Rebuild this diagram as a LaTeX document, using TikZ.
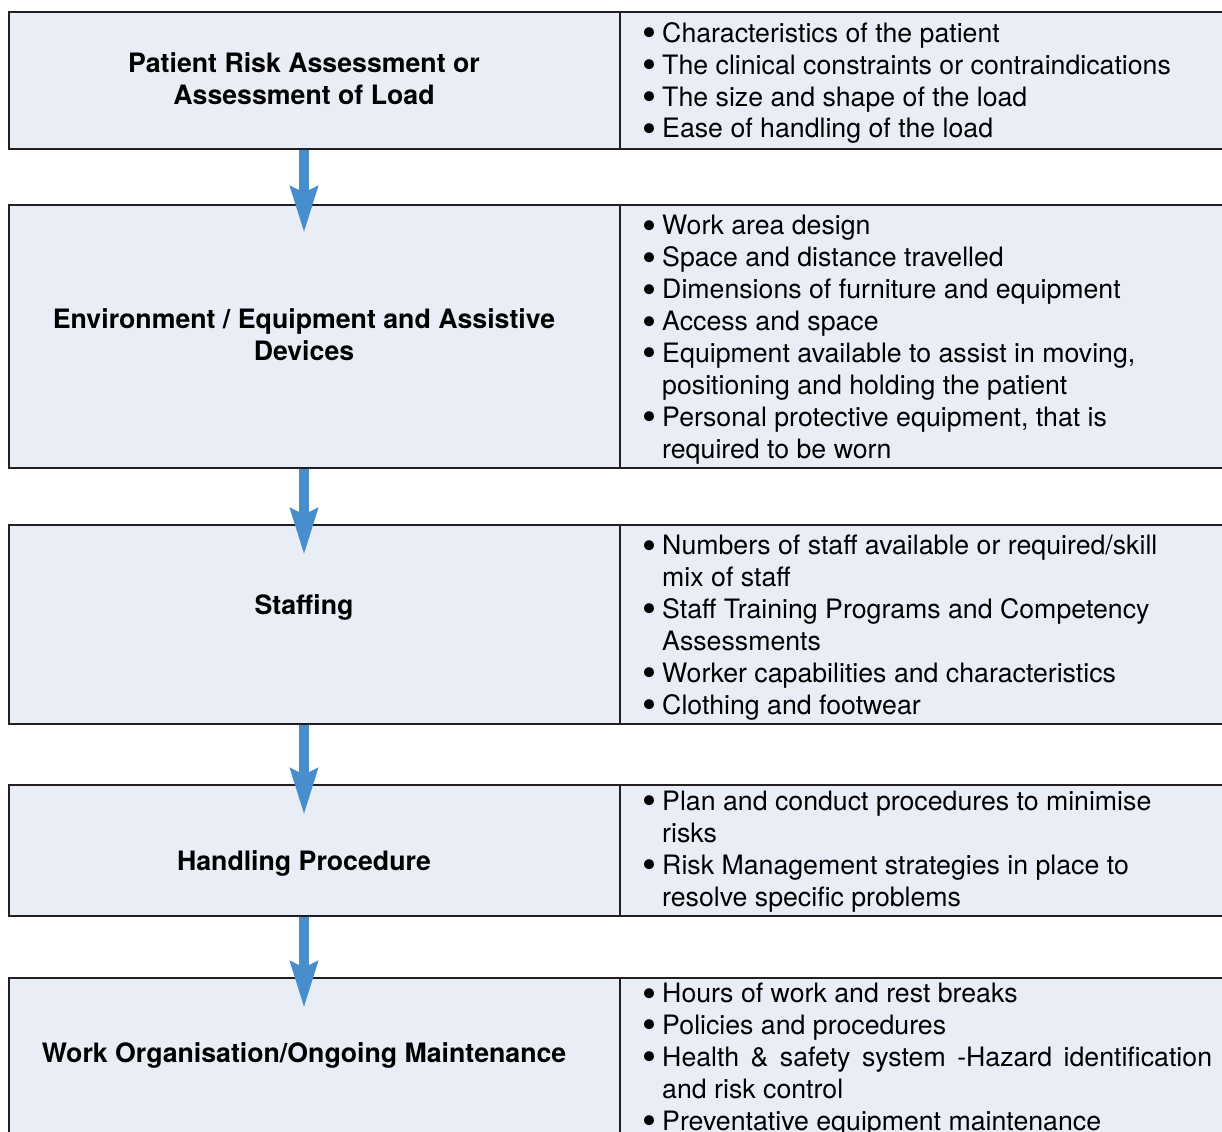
\documentclass[tikz,border=0pt]{standalone}
\usepackage{fontspec}
\setmainfont{TeX Gyre Heros}
\usetikzlibrary{arrows.meta,positioning,fit}

\definecolor{cellfill}{RGB}{232,237,246}
\definecolor{flowblue}{RGB}{72,142,204}
\definecolor{rulegray}{RGB}{35,31,32}

% bullet with hanging indent
\newcommand{\itm}{\makebox[9.6pt][l]{\kern-1.7pt\raisebox{-0.17em}{\scalebox{1.5}{\textbullet}}}}
\newcommand{\cont}{\hspace*{9.6pt}}

\tikzset{
    cell/.style={draw=rulegray, line width=1.1pt, fill=cellfill, inner sep=0pt},
    heading/.style={font=\fontsize{15.2}{18.14}\selectfont\bfseries, align=center, inner sep=0pt},
    % anchored on the baseline of the last line
    points/.style={font=\fontsize{15.2}{18.14}\selectfont, align=left, anchor=base west, inner sep=0pt},
    flow/.style={line width=5.7pt, flowblue, -{Stealth[length=26pt, width=15pt, inset=3pt]}}
}

\begin{document}
\begin{tikzpicture}[x=0.02cm, y=-0.02cm]
    \useasboundingbox (0,0) rectangle (1222,1131);

    % Rows: heading cell on the left, list cell on the right
    \foreach \top/\bot/\name in {12/149/risk, 205/468/env, 525/724/staff, 785/916/proc, 978/1170/org} {
        \node[cell, fit={(9,\top) (620,\bot)}] (\name-l) {};
        \node[cell, fit={(620,\top) (1250,\bot)}] (\name-r) {};
    }

    % Headings
    \node[heading] (risk-h) at (304,79) {Patient Risk Assessment or\\Assessment of Load};
    \node[heading] (env-h) at (304,335) {Environment / Equipment and Assistive\\Devices};
    \node[heading] (staff-h) at (304,607) {Staffing};
    \node[heading] (proc-h) at (304,863) {Handling Procedure};
    \node[heading] (org-h) at (304,1055) {Work Organisation/Ongoing Maintenance};

    % Lists
    \node[points] (risk-p) at (645,138) {\itm Characteristics of the patient\\
        \itm The clinical constraints or contraindications\\
        \itm The size and shape of the load\\
        \itm Ease of handling of the load};
    \node[points] (env-p) at (645,458) {\itm Work area design\\
        \itm Space and distance travelled\\
        \itm Dimensions of furniture and equipment\\
        \itm Access and space\\
        \itm Equipment available to assist in moving,\\
        \cont positioning and holding the patient\\
        \itm Personal protective equipment, that is\\
        \cont required to be worn};
    \node[points] (staff-p) at (645,714) {\itm Numbers of staff available or required/skill\\
        \cont mix of staff\\
        \itm Staff Training Programs and Competency\\
        \cont Assessments\\
        \itm Worker capabilities and characteristics\\
        \itm Clothing and footwear};
    \node[points] (proc-p) at (645,906) {\itm Plan and conduct procedures to minimise\\
        \cont risks\\
        \itm Risk Management strategies in place to\\
        \cont resolve specific problems};
    \node[points] (org-p) at (645,1130) {\itm Hours of work and rest breaks\\
        \itm Policies and procedures\\
        \itm \makebox[11cm][s]{Health \& safety system -Hazard identification}\\
        \cont and risk control\\
        \itm Preventative equipment maintenance};

    % Flow arrows between rows
    \coordinate (tip1) at (304,233);
    \coordinate (tip2) at (304,555);
    \coordinate (tip3) at (304,815);
    \coordinate (tip4) at (304,1008);
    \draw[flow] (risk-l.south -| tip1) -- (tip1);
    \draw[flow] (env-l.south -| tip2) -- (tip2);
    \draw[flow] (staff-l.south -| tip3) -- (tip3);
    \draw[flow] (proc-l.south -| tip4) -- (tip4);
\end{tikzpicture}
\end{document}
